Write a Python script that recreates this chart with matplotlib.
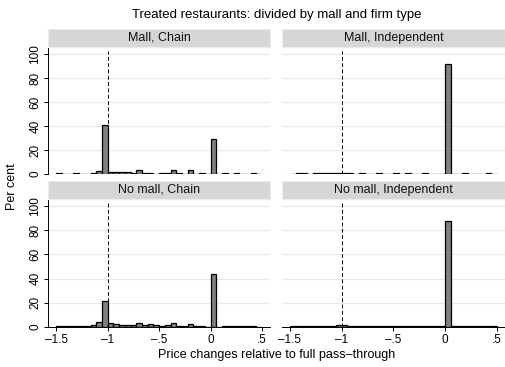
import numpy as np
import matplotlib
matplotlib.use("Agg")
import matplotlib.pyplot as plt

plt.rcParams["font.family"] = ["Liberation Sans", "DejaVu Sans"]

# histogram heights (per cent), 36 bins of width 1/18 from -1.5 to .5
mall_chain = [0.7, 0, 0, 0.8, 0.4, 0.4, 1.0, 2.5, 41, 1.5, 2.0, 1.5,
              1.5, 0.5, 3.0, 0.5, 0.5, 0.4, 1.0, 0.5, 3.5, 0.5, 0, 3.0,
              0, 1.2, 0, 29, 0, 0.5, 0, 1.0, 0, 0, 0.5, 0]
mall_indep = [0, 0.5, 0.5, 0, 0.5, 0.5, 0.5, 0.5, 1.2, 0.6, 0.6, 0,
              0.9, 0, 0, 0.5, 0, 0, 0.5, 0, 0.5, 0, 0, 0.5,
              0, 0, 0, 91.5, 0, 0, 0.5, 0, 0, 0, 0.5, 0]
nomall_chain = [0.2, 0.2, 0.2, 0.3, 0.3, 0.8, 1.0, 3.9, 21, 3.4, 2.5, 1.0,
                1.0, 1.2, 2.8, 1.0, 2.5, 1.0, 0.5, 1.0, 2.8, 0.8, 0.8, 2.5,
                0.5, 0.3, 0, 44, 0, 0.5, 0.2, 0.5, 0.5, 0.2, 0.2, 0]
nomall_indep = [0.3, 0.3, 0.3, 0.3, 0.3, 0.3, 0.3, 0.4, 1.5, 1.0, 0.3, 0.3,
                0.3, 0.3, 0.3, 0.3, 0.3, 0.3, 0.6, 0.6, 0.3, 0.3, 0.3, 0.3,
                0.3, 0.3, 0.2, 88, 0.3, 0.3, 0.3, 0.3, 0.3, 0.3, 0.3, 0.3]

panel_titles = ["Mall, Chain", "Mall, Independent", "No mall, Chain", "No mall, Independent"]
panel_data = [mall_chain, mall_indep, nomall_chain, nomall_indep]
xticks = [-1.5, -1, -0.5, 0, 0.5]
xticklabels = ["\u20131.5", "\u20131", "\u2013.5", "0", ".5"]
yticks = [0, 20, 40, 60, 80, 100]

W, H = 505, 367
fig = plt.figure(figsize=(W / 100, H / 100), dpi=100)

edges = np.linspace(-1.5, 0.5, 37)

# panel boxes in pixels: (left, top, right, bottom)
boxes = [(48.3, 47, 270, 174), (281.7, 47, 505, 174),
         (48.3, 199, 270, 326.7), (281.7, 199, 505, 326.7)]
strip_h = 18

for i, (ttl, vals, (l, t, r, b)) in enumerate(zip(panel_titles, panel_data, boxes)):
    ax = fig.add_axes([l / W, 1 - b / H, (r - l) / W, (b - t) / H])
    ax.set_xlim(-1.578, 0.577)
    ax.set_ylim(0, 106)
    ax.set_yticks(yticks)
    ax.grid(axis="y", color="#e8e8e8", lw=0.8, zorder=0)
    ax.set_axisbelow(True)
    ax.bar(edges[:-1], vals, width=1 / 18, align="edge", color="#808080",
           edgecolor="black", lw=0.9, zorder=3)
    ax.plot([-1, -1], [0, 103], color="black", lw=0.7, dashes=(4, 2.5), zorder=4)
    for s in ["top", "right"]:
        ax.spines[s].set_visible(False)
    ax.tick_params(labelsize=8.5, length=3, width=0.7, color="black", pad=2)
    if i % 2 == 0:
        ax.spines["left"].set_linewidth(0.7)
        ax.set_yticklabels([str(v) for v in yticks], rotation=90, va="center")
    else:
        ax.spines["left"].set_visible(False)
        ax.tick_params(axis="y", left=False, labelleft=False)
    if i >= 2:
        ax.spines["bottom"].set_linewidth(0.7)
        ax.set_xticks(xticks)
        ax.set_xticklabels(xticklabels)
    else:
        ax.spines["bottom"].set_visible(False)
        ax.set_xticks(xticks)
        ax.tick_params(axis="x", bottom=False, labelbottom=False)

    sax = fig.add_axes([l / W, 1 - t / H, (r - l) / W, strip_h / H])
    sax.set_facecolor("#d6d6d6")
    sax.set_xticks([])
    sax.set_yticks([])
    for s in sax.spines.values():
        s.set_color("#ececec")
        s.set_linewidth(0.8)
    sax.text(0.5, 0.5, ttl, ha="center", va="center", fontsize=9, color="#111111",
             transform=sax.transAxes)

cx = (48.3 + 505) / 2 / W
fig.text(cx, 1 - 15 / H, "Treated restaurants: divided by mall and firm type",
         ha="center", va="center", fontsize=9.5)
fig.text(cx, 1 - 355 / H, "Price changes relative to full pass\u2013through",
         ha="center", va="center", fontsize=9)
fig.text(12 / W, 1 - 187 / H, "Per cent", rotation=90, ha="center", va="center",
         fontsize=9)

fig.savefig("out.png", dpi=100)
